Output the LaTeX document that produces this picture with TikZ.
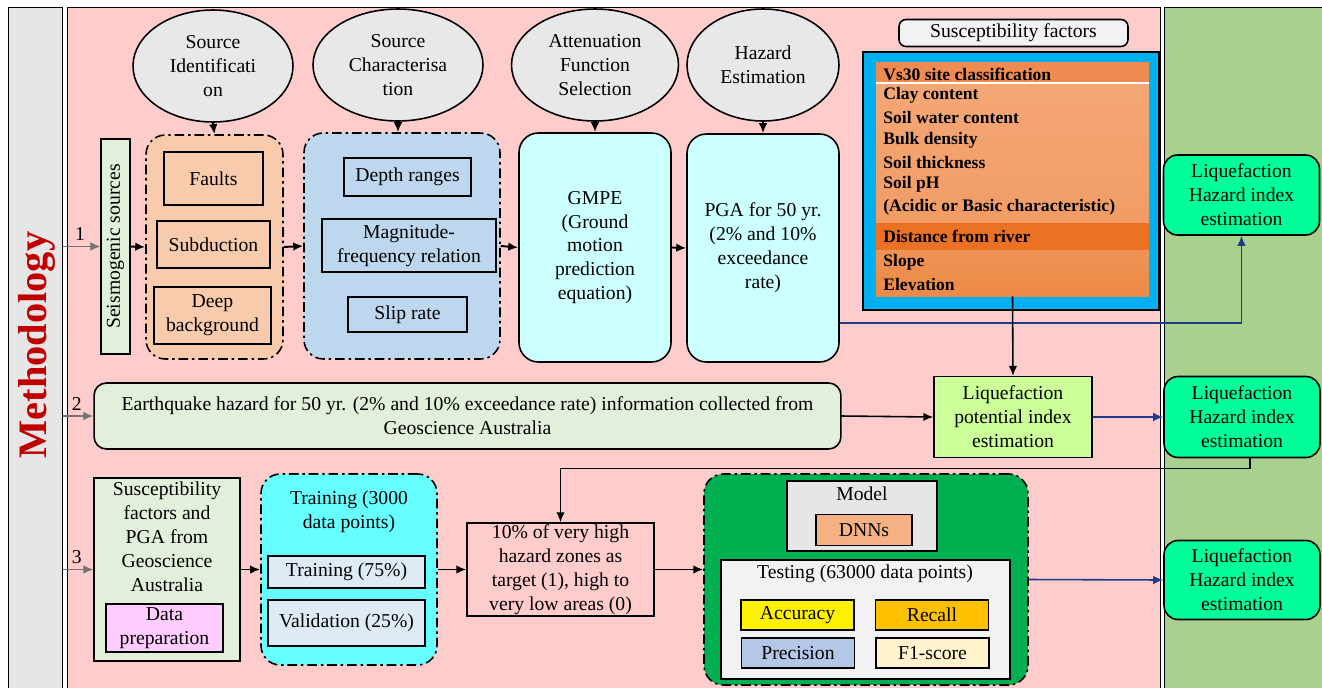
\documentclass[tikz,border=0pt]{standalone}
\usepackage{fontspec}
\setmainfont{Liberation Serif}
\usetikzlibrary{arrows.meta,positioning,shapes.geometric}

\definecolor{methgrey}{HTML}{E7E6E6}
\definecolor{methred}{HTML}{C00000}
\definecolor{panelpink}{HTML}{FFCCCC}
\definecolor{panelgreen}{HTML}{A9D18E}
\definecolor{stagegrey}{HTML}{E8E8E8}
\definecolor{palegreen}{HTML}{E2EFDA}
\definecolor{peach}{HTML}{F8CBAD}
\definecolor{paleblue}{HTML}{BDD7EE}
\definecolor{palecyan}{HTML}{CCFFFF}
\definecolor{skyblue}{HTML}{00B0F0}
\definecolor{liqgreen}{HTML}{00FF99}
\definecolor{limegreen}{HTML}{CCFF99}
\definecolor{pinkish}{HTML}{FFCCFF}
\definecolor{aqua}{HTML}{66FFFF}
\definecolor{greyblue}{HTML}{DEEBF7}
\definecolor{darkgreen}{HTML}{00B050}
\definecolor{dnnorange}{HTML}{F4B183}
\definecolor{testgrey}{HTML}{F2F2F2}
\definecolor{recallorange}{HTML}{FFC000}
\definecolor{precblue}{HTML}{B4C7E7}
\definecolor{cream}{HTML}{FFF2CC}
\definecolor{navyline}{HTML}{1F3A8A}
\definecolor{bandtop}{HTML}{EF8A51}
\definecolor{bandmainA}{HTML}{F4A776}
\definecolor{bandmainB}{HTML}{F29C64}
\definecolor{bandriver}{HTML}{EB7125}
\definecolor{bandlowA}{HTML}{EF9354}
\definecolor{bandlowB}{HTML}{EC8A48}

\begin{document}
\begin{tikzpicture}[x=0.02cm,y=-0.02cm,
    font=\fontsize{11.2}{13.6}\selectfont,
    box/.style={draw,line width=0.8pt,align=center,inner sep=1pt},
    stage/.style={ellipse,draw,line width=0.9pt,fill=stagegrey,
                  align=center,inner sep=0pt,minimum height=2.24cm},
    group/.style={draw,line width=0.9pt,rounded corners=11pt,
                  dash pattern=on 5.5pt off 2.2pt on 1.4pt off 2.2pt},
    panel/.style={draw,line width=0.9pt,rounded corners=11pt,align=center,inner sep=1pt},
    liq/.style={panel,fill=liqgreen,rounded corners=8pt,
                minimum width=3.12cm,minimum height=1.6cm},
    metric/.style={box,minimum width=2.26cm,minimum height=0.6cm},
    factor/.style={font=\fontsize{10}{12}\selectfont\bfseries,anchor=west,inner sep=0pt},
    flow/.style={-{Latex[length=2mm,width=1.7mm]},line width=1.1pt},
    feed/.style={-{Latex[length=2mm,width=1.7mm]},line width=0.9pt,navyline},
    numline/.style={-{Latex[length=2mm,width=1.7mm]},line width=0.6pt,black!55},
    num/.style={above,inner sep=3pt,pos=0.45,text=black},
]
\clip (0,0) rectangle (1322,687);

% background columns
\node[draw,line width=0.8pt,fill=methgrey,anchor=north west,inner sep=0pt,
      minimum width=1.08cm,minimum height=14cm] (methcol) at (8,7) {};
\node[draw,line width=0.8pt,fill=panelpink,anchor=north west,inner sep=0pt,
      minimum width=21.86cm,minimum height=14cm] (mainpanel) at (67,7) {};
\node[draw,line width=0.8pt,fill=panelgreen,anchor=north west,inner sep=0pt,
      minimum width=3.2cm,minimum height=14cm] (outpanel) at (1164,7) {};
\node[rotate=90,font=\fontsize{23}{26}\selectfont\bfseries,text=methred]
    (methtitle) at (37,345) {Methodology};

% stages of the hazard analysis
\node[stage,minimum width=3.2cm]  (srcid) at (213,66) {Source\\Identificati\\on};
\node[stage,minimum width=3.4cm]  (srcch) at (398,65) {Source\\Characterisa\\tion};
\node[stage,minimum width=3.34cm] (attn)  at (595,65) {Attenuation\\Function\\Selection};
\node[stage,minimum width=3.04cm] (hazest) at (763,65) {Hazard\\Estimation};

% row 1
\node[box,fill=palegreen,rotate=90,minimum width=4.3cm,minimum height=0.58cm]
    (seis) at (115.5,246.5) {Seismogenic sources};
\node[group,fill=peach,minimum width=2.74cm,minimum height=4.48cm] (srcgrp) at (214.5,247) {};
\node[box,fill=peach,minimum width=1.98cm,minimum height=1.06cm] (faults) at (213.5,178.5) {Faults};
\node[box,fill=peach,minimum width=2.26cm,minimum height=0.94cm] (subd) at (213.5,244.5) {Subduction};
\node[box,fill=peach,minimum width=2.34cm,minimum height=1.14cm] (deep) at (212.5,315.5) {Deep\\background};

\node[group,fill=paleblue,minimum width=3.92cm,minimum height=4.52cm] (chargrp) at (402,246) {};
\node[box,fill=paleblue,minimum width=2.54cm,minimum height=0.76cm] (depth) at (407.5,177) {Depth ranges};
\node[box,fill=paleblue,minimum width=3.48cm,minimum height=1.06cm] (magfreq) at (409,245.5) {Magnitude-\\frequency relation};
\node[box,fill=paleblue,minimum width=2.38cm,minimum height=0.7cm] (slip) at (407.5,314.5) {Slip rate};

\node[panel,fill=palecyan,minimum width=3.04cm,minimum height=4.58cm] (gmpe) at (595,247.5)
    {GMPE\\(Ground\\motion\\prediction\\equation)};
\node[panel,fill=palecyan,minimum width=3.04cm,minimum height=4.56cm] (pga) at (763,248)
    {PGA for 50 yr.\\(2\% and 10\%\\exceedance\\rate)};

\draw[numline] (methcol.east |- seis.north) -- node[num] (n1) {1} (seis.north);
\draw[flow] (seis.south) -- (srcgrp.west);
\draw[flow] (srcgrp.east) -- (chargrp.west);
\draw[flow] (chargrp.east) -- (gmpe.west);
\draw[flow] (gmpe.east) -- (pga.west);
\draw[flow] (srcid.south) -- (srcgrp.north);
\draw[flow] (srcch.south) -- (srcch.south |- chargrp.north);
\draw[flow] (attn.south) -- (gmpe.north);
\draw[flow] (hazest.south) -- (pga.north);

% susceptibility factors
\node[panel,fill=testgrey,rounded corners=4pt,minimum width=4.58cm,minimum height=0.54cm]
    (sfhead) at (1013.5,33) {Susceptibility factors};
\node[draw,line width=0.9pt,fill=skyblue,minimum width=5.92cm,minimum height=5.16cm] (sfframe) at (1011,181) {};
\node[inner sep=0pt,minimum width=5.46cm,minimum height=4.68cm] (sflist) at (1012.5,179) {};
\fill[bandtop] (876,62) rectangle (1149,82);
\fill[white] (876,82) rectangle (1149,84);
\shade[top color=bandmainA,bottom color=bandmainB] (876,84) rectangle (1149,223);
\fill[bandriver] (876,223) rectangle (1149,250);
\shade[top color=bandlowA,bottom color=bandlowB] (876,250) rectangle (1149,296);
\foreach \y/\t [count=\i] in {74/{Vs30 site classification},95/{Clay content},
    117/{Soil water content},140/{Bulk density},162/{Soil thickness},184/{Soil pH},
    207/{(Acidic or Basic characteristic)},236/{Distance from river},262/{Slope},284/{Elevation}}
  \node[factor] (fac\i) at (883,\y) {\t};

\node[liq] (lhz1) at (1241.5,195) {Liquefaction\\Hazard index\\estimation};
\draw[feed] ([yshift=-1.5cm]pga.east) -| (lhz1.south);

% row 2
\node[panel,fill=palegreen,rounded corners=7pt,minimum width=14.94cm,minimum height=1.32cm] (eqbox) at (467.5,416)
    {Earthquake hazard for 50 yr. (2\% and 10\% exceedance rate) information collected from\\Geoscience Australia};
\node[box,fill=limegreen,minimum width=3.16cm,minimum height=1.62cm] (lpot) at (1013,417)
    {Liquefaction\\potential index\\estimation};
\node[liq,minimum height=1.62cm] (lhz2) at (1242,417) {Liquefaction\\Hazard index\\estimation};

\draw[numline] (methcol.east |- eqbox.west) -- node[num] (n2) {2} (eqbox.west);
\draw[flow,line width=0.9pt] (sflist.south) -- (lpot.north);
\draw[flow,line width=0.9pt] (eqbox.east) -- (lpot.west);
\draw[feed] (lpot.east) -- (lhz2.west);

% row 3
\node[box,fill=palegreen,minimum width=2.92cm,minimum height=3.66cm] (sfpga) at (167,569.5) {};
\node[align=center,inner sep=0pt] (sfpgatxt) at (167,537)
    {Susceptibility\\factors and\\PGA from\\Geoscience\\Australia};
\node[box,fill=pinkish,minimum width=2.34cm,minimum height=0.96cm] (dataprep) at (164.5,628) {Data\\preparation};

\node[group,fill=aqua,minimum width=3.52cm,minimum height=3.82cm] (traingrp) at (349,569.5) {};
\node[align=center,inner sep=0pt] (traintxt) at (349,512) {Training (3000\\data points)};
\node[box,fill=greyblue,minimum width=3.14cm,minimum height=0.64cm] (train75) at (346.5,572) {Training (75\%)};
\node[box,fill=greyblue,minimum width=3.14cm,minimum height=0.92cm] (valid) at (346.5,623) {Validation (25\%)};

\node[box,fill=panelpink,inner sep=0pt,minimum width=3.74cm,minimum height=1.86cm] (target) at (560.5,569.5)
    {10\% of very high\\hazard zones as\\target (1), high to\\very low areas (0)};

\node[group,fill=darkgreen,minimum width=6.48cm,minimum height=4.22cm] (modelgrp) at (866,579.5) {};
\node[box,fill=methgrey,minimum width=3cm,minimum height=1.4cm] (modelbox) at (862,516) {};
\node[inner sep=0pt] (modeltxt) at (862,494) {Model};
\node[box,fill=dnnorange,minimum width=1.92cm,minimum height=0.62cm] (dnn) at (864,530) {DNNs};
\node[box,fill=testgrey,minimum width=5.78cm,minimum height=2.38cm] (testbox) at (865.5,619.5) {};
\node[inner sep=0pt] (testtxt) at (865,574) {Testing (63000 data points)};
\node[metric,fill=yellow] (acc) at (797.5,615) {Accuracy};
\node[metric,fill=recallorange] (rec) at (932,615) {Recall};
\node[metric,fill=precblue] (prec) at (798,653) {Precision};
\node[metric,fill=cream] (f1) at (932.5,653) {F1-score};

\node[liq,minimum height=1.58cm] (lhz3) at (1242,580) {Liquefaction\\Hazard index\\estimation};

\draw[numline] (methcol.east |- sfpga.west) -- node[num] (n3) {3} (sfpga.west);
\draw[flow] (sfpga.east) -- (traingrp.west);
\draw[flow] (traingrp.east) -- (target.west);
\draw[flow] (target.east) -- (target.east -| modelgrp.west);
\draw[feed] (modelgrp.east) -- (lhz3.west);
\draw[flow,line width=0.9pt] ([xshift=0.16cm]lhz2.south) -- ++(0,10) -| (target.north);

\end{tikzpicture}
\end{document}
